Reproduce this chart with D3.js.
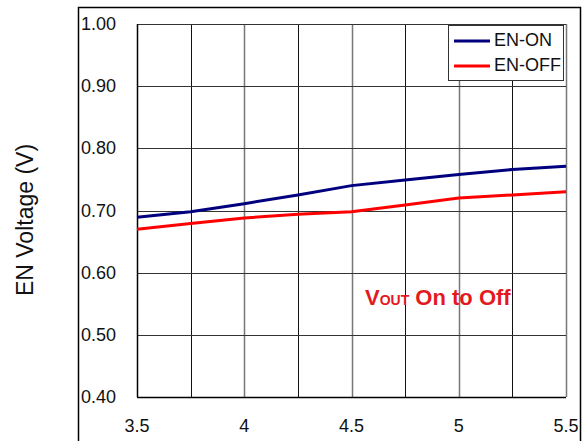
<!DOCTYPE html>
<html>
<head>
<meta charset="utf-8">
<script src="https://cdn.jsdelivr.net/npm/d3@7"></script>
<style>
  body { margin: 0; background: #fff; }
  text { font-family: "Liberation Sans", Arial, sans-serif; }
</style>
</head>
<body>
<div id="chart"></div>
<script>
// EN threshold vs VIN

const vin = [3.5, 3.75, 4, 4.25, 4.5, 4.75, 5, 5.25, 5.5];
const enOn = [0.689, 0.698, 0.711, 0.725, 0.740, 0.749, 0.758, 0.766, 0.771];
const enOff = [0.670, 0.679, 0.688, 0.694, 0.698, 0.709, 0.720, 0.725, 0.730];
const xTicks = [3.5, 4, 4.5, 5, 5.5];
const yTicks = [0.4, 0.5, 0.6, 0.7, 0.8, 0.9, 1.0];

const svgWidth = 587;
const svgHeight = 441;

const margin = { top: 24, right: 21, bottom: 44, left: 137 };
const width = svgWidth - margin.left - margin.right;
const height = svgHeight - margin.top - margin.bottom;

const svg = d3.select("#chart")
    .append("svg")
    .attr("width", svgWidth)
    .attr("height", svgHeight);

// outer frame (open at the bottom)
svg.append("path")
    .attr("d", "M78.5,441 V7.5 H580.5 V441")
    .attr("fill", "none")
    .attr("stroke", "#000")
    .attr("stroke-width", 1.5);

const g = svg.append("g")
    .attr("transform", `translate(${margin.left}, ${margin.top})`);

const x = d3.scaleLinear().domain([3.5, 5.5]).range([0, width]);
const y = d3.scaleLinear().domain([0.4, 1.0]).range([height, 0]);

// vertical grid
g.selectAll("line.vgrid")
    .data(vin)
    .enter()
    .append("line")
    .attr("x1", d => Math.round(x(d)) + 0.5)
    .attr("x2", d => Math.round(x(d)) + 0.5)
    .attr("y1", 0)
    .attr("y2", height)
    .attr("stroke", (d, i) => i % 2 === 0 && i > 0 ? "#777" : "#111")
    .attr("stroke-width", (d, i) => i % 2 === 0 && i > 0 ? 1.5 : 1);

// horizontal grid
g.selectAll("line.hgrid")
    .data(yTicks)
    .enter()
    .append("line")
    .attr("x1", 0)
    .attr("x2", width)
    .attr("y1", d => Math.round(y(d)) + 0.5)
    .attr("y2", d => Math.round(y(d)) + 0.5)
    .attr("stroke", d => d === 0.4 ? "#000" : "#333")
    .attr("stroke-width", d => d === 0.4 ? 1.5 : 1);

// left border of plot
g.append("line")
    .attr("x1", 0.5).attr("x2", 0.5)
    .attr("y1", 0).attr("y2", height)
    .attr("stroke", "#000")
    .attr("stroke-width", 1.5);

// y tick labels (inside outer frame)
svg.selectAll("text.ytick")
    .data(yTicks)
    .enter()
    .append("text")
    .attr("x", 81)
    .attr("y", d => margin.top + y(d) + 6)
    .attr("font-size", 18)
    .attr("fill", "#111")
    .text(d => d.toFixed(2));

// x tick labels
svg.selectAll("text.xtick")
    .data(xTicks)
    .enter()
    .append("text")
    .attr("x", d => margin.left + x(d))
    .attr("y", 432)
    .attr("text-anchor", "middle")
    .attr("font-size", 18)
    .attr("fill", "#111")
    .text(d => d);

// y axis title
svg.append("text")
    .attr("transform", "translate(33, 220) rotate(-90)")
    .attr("text-anchor", "middle")
    .attr("font-size", 23)
    .attr("fill", "#111")
    .text("EN Voltage (V)");

// lines
const line = d3.line()
    .x((d, i) => x(vin[i]))
    .y(d => y(d));

g.append("path")
    .datum(enOff)
    .attr("d", line)
    .attr("fill", "none")
    .attr("stroke", "#ff0000")
    .attr("stroke-width", 3);

g.append("path")
    .datum(enOn)
    .attr("d", line)
    .attr("fill", "none")
    .attr("stroke", "#00007f")
    .attr("stroke-width", 3);

// legend
const legend = svg.append("g");
legend.append("rect")
    .attr("x", 448.5)
    .attr("y", 25.5)
    .attr("width", 115)
    .attr("height", 55)
    .attr("fill", "#fff")
    .attr("stroke", "#333")
    .attr("stroke-width", 1);

const legendItems = [
    { name: "EN-ON", color: "#00007f" },
    { name: "EN-OFF", color: "#ff0000" }
];

legendItems.forEach(function(item, i) {
    const ly = 41 + i * 25;
    legend.append("line")
        .attr("x1", 454).attr("x2", 490)
        .attr("y1", ly).attr("y2", ly)
        .attr("stroke", item.color)
        .attr("stroke-width", 3);
    legend.append("text")
        .attr("x", 494)
        .attr("y", ly + 5)
        .attr("font-size", 18)
        .attr("fill", "#111")
        .text(item.name);
});

// annotation
const note = svg.append("text")
    .attr("x", 365)
    .attr("y", 305)
    .attr("font-size", 22)
    .attr("font-weight", "bold")
    .attr("fill", "#e3191e");
note.append("tspan").text("V");
note.append("tspan").attr("font-size", 14).text("OUT");
note.append("tspan").text(" On to Off");
</script>
</body>
</html>
